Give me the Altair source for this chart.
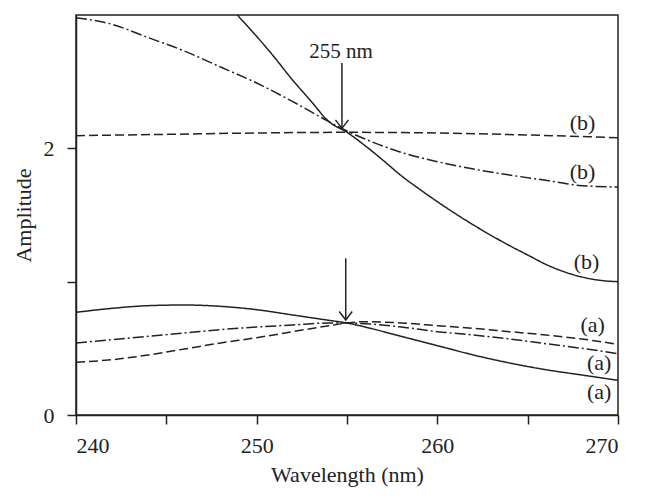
import altair as alt
import pandas as pd

# ---- data ----
wl_a = [240, 242, 244, 246, 248, 250, 252, 254, 255, 256, 258, 260, 262, 264, 266, 268, 270]
solid_a = [0.77, 0.80, 0.82, 0.825, 0.815, 0.79, 0.75, 0.71, 0.69, 0.66, 0.59, 0.52, 0.45, 0.39, 0.34, 0.30, 0.26]
dashdot_a = [0.54, 0.565, 0.59, 0.615, 0.64, 0.66, 0.675, 0.69, 0.69, 0.685, 0.66, 0.625, 0.60, 0.57, 0.535, 0.50, 0.46]
dashed_a = [0.395, 0.415, 0.45, 0.495, 0.54, 0.58, 0.625, 0.67, 0.69, 0.70, 0.69, 0.67, 0.65, 0.625, 0.60, 0.57, 0.53]

wl_sb = [248, 249, 250, 251, 252, 253, 254, 255, 256, 257, 258, 259, 260, 261, 262, 263, 264, 265, 266, 267, 268, 269, 270]
solid_b = [3.15, 2.99, 2.84, 2.68, 2.51, 2.355, 2.20, 2.12, 2.02, 1.91, 1.795, 1.695, 1.60, 1.51, 1.425, 1.345, 1.27, 1.20, 1.13, 1.075, 1.035, 1.01, 1.0]

wl_db = [240, 242, 244, 246, 248, 250, 252, 254, 255, 256, 258, 260, 262, 264, 266, 268, 270]
dashdot_b = [2.98, 2.93, 2.83, 2.73, 2.61, 2.49, 2.35, 2.20, 2.13, 2.07, 1.97, 1.90, 1.845, 1.80, 1.76, 1.72, 1.71]

wl_eb = [240, 245, 250, 255, 260, 265, 270]
dashed_b = [2.095, 2.105, 2.115, 2.12, 2.115, 2.10, 2.08]

# curve labels
lab_text = ["(b)", "(b)", "(b)", "(a)", "(a)", "(a)"]
lab_x = [268.04, 268.04, 268.26, 268.6, 268.96, 268.96]
lab_y = [2.19, 1.825, 1.15, 0.675, 0.39, 0.175]

# annotation
ann_text = ["255 nm"]
ann_x = [254.67]
ann_y = [2.72]

# arrows (start -> tip)
arrow_x = [254.72, 254.93]
arrow_y_start = [2.64, 1.175]
arrow_y_tip = [2.15, 0.7125]

FONT = "Liberation Serif"
INK = "#222222"

rows = []
def add(series, style, xs, ys):
    for x, y in zip(xs, ys):
        rows.append({"wl": x, "amp": y, "series": series, "style": style})

add("a_solid", "solid", wl_a, solid_a)
add("a_dashdot", "dashdot", wl_a, dashdot_a)
add("a_dashed", "dashed", wl_a, dashed_a)
add("b_solid", "solid", wl_sb, solid_b)
add("b_dashdot", "dashdot", wl_db, dashdot_b)
add("b_dashed", "dashed", wl_eb, dashed_b)
df = pd.DataFrame(rows)

xscale = alt.Scale(domain=[240, 270], nice=False, zero=False)
yscale = alt.Scale(domain=[0, 3], nice=False)

lines = alt.Chart(df).mark_line(strokeWidth=1.5, color=INK, clip=True, interpolate="monotone").encode(
    x=alt.X("wl:Q", scale=xscale, title="Wavelength (nm)",
            axis=alt.Axis(values=list(range(240, 271, 5)), format="d",
                          labelExpr="datum.value % 10 == 0 ? datum.label : ''")),
    y=alt.Y("amp:Q", scale=yscale, title="Amplitude",
            axis=alt.Axis(values=[0, 1, 2], format="d",
                          labelExpr="datum.value == 0 || datum.value == 2 ? datum.label : ''")),
    detail="series:N",
    strokeDash=alt.StrokeDash("style:N", legend=None,
                              scale=alt.Scale(domain=["solid", "dashed", "dashdot"],
                                              range=[[1, 0], [9, 4], [11, 3, 2, 3]])),
)

lab_df = pd.DataFrame({"x": lab_x, "y": lab_y, "t": lab_text})
labels = alt.Chart(lab_df).mark_text(font=FONT, fontSize=22, color=INK, align="center", baseline="middle").encode(
    x=alt.X("x:Q", scale=xscale), y=alt.Y("y:Q", scale=yscale), text="t:N")

ann_df = pd.DataFrame({"x": ann_x, "y": ann_y, "t": ann_text})
ann = alt.Chart(ann_df).mark_text(font=FONT, fontSize=21, color=INK, align="center", baseline="middle").encode(
    x=alt.X("x:Q", scale=xscale), y=alt.Y("y:Q", scale=yscale), text="t:N")

arr_df = pd.DataFrame({"x": arrow_x, "y0": arrow_y_start, "y1": arrow_y_tip})
shafts = alt.Chart(arr_df).mark_rule(color=INK, strokeWidth=1.5).encode(
    x=alt.X("x:Q", scale=xscale), y=alt.Y("y0:Q", scale=yscale), y2="y1:Q")
heads = alt.Chart(arr_df).mark_point(shape="M -1 -1.3 L 0 0 L 1 -1.3", filled=False, size=169,
                                     color=INK, strokeWidth=1.5, opacity=1).encode(
    x=alt.X("x:Q", scale=xscale), y=alt.Y("y1:Q", scale=yscale))

chart = alt.layer(lines, labels, ann, shafts, heads).properties(
    width=542, height=400,
    autosize=alt.AutoSizeParams(type="none"),
    padding={"left": 68, "top": 7, "right": 20, "bottom": 75},
).configure_view(stroke=INK, strokeWidth=1.5).configure_axis(
    grid=False, domainColor=INK, domainWidth=1.5, tickColor=INK, tickWidth=1.5, tickSize=9,
    labelFont=FONT, labelFontSize=22, labelColor=INK, titleFont=FONT, titleFontSize=22,
    titleColor=INK, titleFontWeight="normal",
).configure_axisX(labelPadding=11, titlePadding=8).configure_axisY(labelPadding=13, titlePadding=8)

chart.save("out.html", embed_options={"renderer": "svg", "actions": False})
